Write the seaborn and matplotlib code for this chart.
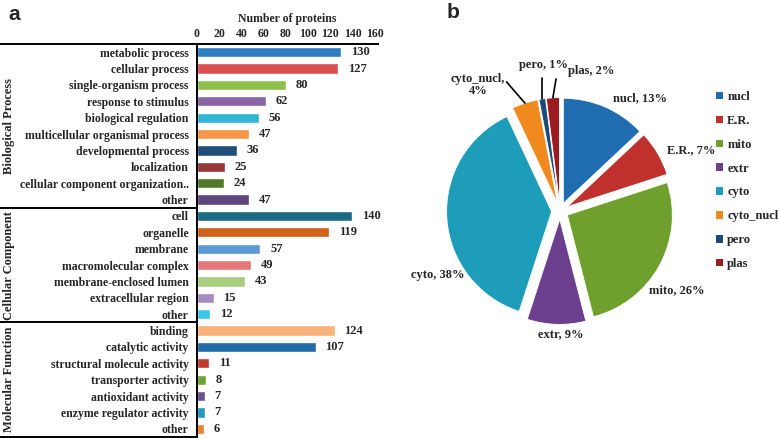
import numpy as np
import pandas as pd
import matplotlib
matplotlib.use("Agg")
import matplotlib.pyplot as plt
import matplotlib.transforms as mtransforms
from matplotlib.patches import Patch
import seaborn as sns

# ---------- data: panel a (GO terms) ----------
bp_terms = ["metabolic process", "cellular process", "single-organism process",
            "response to stimulus", "biological regulation",
            "multicellular organismal process", "developmental process",
            "localization", "cellular component organization..", "other"]
bp_counts = [130, 127, 80, 62, 56, 47, 36, 25, 24, 47]

cc_terms = ["cell", "organelle", "membrane", "macromolecular complex",
            "membrane-enclosed lumen", "extracellular region", "other"]
cc_counts = [140, 119, 57, 49, 43, 15, 12]

mf_terms = ["binding", "catalytic activity", "structural molecule activity",
            "transporter activity", "antioxidant activity",
            "enzyme regulator activity", "other"]
mf_counts = [124, 107, 11, 8, 7, 7, 6]

groups = ["Biological Process", "Cellular Component", "Molecular Function"]

bp_colors = ["#2E7EC1", "#D9504F", "#8DBF4A", "#8A64A8", "#2FB5D6",
             "#F79646", "#1F4E79", "#953735", "#4F7A28", "#5F4480"]
cc_colors = ["#1B6B84", "#D0601A", "#5B9BD5", "#E57878", "#A9CD7E",
             "#A68AC0", "#3BC8E8"]
mf_colors = ["#F9B27A", "#1F6CA8", "#C0392B", "#6FA337", "#6A4E8E",
             "#1F9AC0", "#F07E2A"]

# ---------- data: panel b (subcellular localisation) ----------
loc_names = ["nucl", "E.R.", "mito", "extr", "cyto", "cyto_nucl", "pero", "plas"]
loc_pct = [13, 7, 26, 9, 38, 4, 1, 2]
loc_colors = ["#1F6CB0", "#C0302C", "#6FA02E", "#6B3E8E", "#1E9DBA",
              "#F08A1E", "#1B4A78", "#9B1C1F"]

# ---------- style ----------
sns.set_style("white")
plt.rcParams["font.family"] = ["Liberation Serif", "DejaVu Serif"]
plt.rcParams["font.weight"] = "bold"

terms = bp_terms + cc_terms + mf_terms
counts = bp_counts + cc_counts + mf_counts
colors = bp_colors + cc_colors + mf_colors
sizes = [len(bp_terms), len(cc_terms), len(mf_terms)]
grp = sum([[g] * n for g, n in zip(groups, sizes)], [])
df = pd.DataFrame({"term": terms, "count": counts, "group": grp})
df["row"] = [f"{i:02d}" for i in range(len(df))]   # unique keys ("other" repeats)

fig = plt.figure(figsize=(7.78, 4.38), dpi=100)

# ========== panel a ==========
ax = fig.add_axes([197 / 778, 1 / 438, 181 / 778, 393 / 438])
sns.barplot(data=df, x="count", y="row", hue="row",
            palette=dict(zip(df["row"], colors)), legend=False,
            width=0.62, saturation=1, ax=ax)
ax.set_xlim(0, 163)
ax.set_ylim(len(df) - 0.5, -0.5)
ax.xaxis.tick_top()
ax.xaxis.set_label_position("top")
ax.set_xticks(np.arange(0, 161, 20))
ax.set_xlabel("Number of proteins", fontsize=8.5, fontweight="bold", labelpad=4)
ax.set_ylabel("")
ax.set_yticks(range(len(df)))
ax.set_yticklabels(df["term"], fontsize=8.5, fontweight="bold")
ax.tick_params(axis="both", length=0, pad=6)
ax.tick_params(axis="x", labelsize=8.5, pad=3)
for s in ["right", "bottom"]:
    ax.spines[s].set_visible(False)
for s in ["top", "left"]:
    ax.spines[s].set_color("black")
    ax.spines[s].set_linewidth(1.4)

for i, v in enumerate(df["count"]):
    ax.annotate(str(v), (v, i), xytext=(7, 0), textcoords="offset points",
                va="center", ha="left", fontsize=9, fontweight="bold")

# group separators on the left
blend = mtransforms.blended_transform_factory(ax.transAxes, ax.transData)
x_edge = -197 / 181
bounds = np.cumsum([0] + sizes) - 0.5
for b in bounds:
    ax.plot([x_edge, 0], [b, b], color="black", lw=1.4, transform=blend, clip_on=False)
for g, lo, hi in zip(groups, bounds[:-1], bounds[1:]):
    ax.text(x_edge + 0.05, (lo + hi) / 2, g, rotation=90, ha="center", va="center",
            fontsize=9, fontweight="bold", transform=blend)

fig.text(8 / 778, 1 - 14 / 438, "a", fontsize=15, fontweight="bold",
         family="Liberation Sans", va="center")

# ========== panel b ==========
pax = fig.add_axes([423.5 / 778, 90.5 / 438, 273 / 778, 273 / 438])
explode = [0.08] * len(loc_pct)
wedges, _ = pax.pie(loc_pct, colors=loc_colors, startangle=90, counterclock=False,
                    explode=explode, wedgeprops=dict(edgecolor="white", linewidth=0.6))
pax.set_xlim(-1.3, 1.3)
pax.set_ylim(-1.3, 1.3)
pax.set_aspect("equal")
pax.axis("off")

# label layout: (angle deg, distance) of text centre, leader line or not
label_layout = {
    "nucl": (54.7, 1.32, False),
    "E.R.": (24.8, 1.38, False),
    "mito": (-34.0, 1.34, False),
    "extr": (-89.5, 1.17, False),
    "cyto": (207.7, 1.31, False),
    "cyto_nucl": (123.0, 1.43, True),
    "pero": (96.6, 1.40, True),
    "plas": (77.5, 1.37, True),
}
for w, name, pct in zip(wedges, loc_names, loc_pct):
    ang, dist, leader = label_layout[name]
    tx, ty = dist * np.cos(np.radians(ang)), dist * np.sin(np.radians(ang))
    txt = f"{name},\n{pct}%" if name == "cyto_nucl" else f"{name}, {pct}%"
    if leader:
        mid = np.radians((w.theta1 + w.theta2) / 2)
        r = 1.0 + 0.08
        ex, ey = r * np.cos(mid), r * np.sin(mid)
        if name == "cyto_nucl":
            sx, sy = tx + 0.27, ty + 0.03
        elif name == "pero":
            sx, sy = ex, ty - 0.12
        else:
            sx, sy = ex + 0.03, ty - 0.08
        pax.plot([sx, ex], [sy, ey], color="black", lw=1.2)
    pax.text(tx, ty, txt, ha="center", va="center", fontsize=9,
             fontweight="bold", linespacing=1.0)

handles = [Patch(facecolor=c, edgecolor="none") for c in loc_colors]
fig.legend(handles, loc_names, loc="upper left", bbox_to_anchor=(716 / 778, 1 - 91 / 438),
           frameon=False, prop={"weight": "bold", "size": 9},
           handlelength=0.55, handleheight=0.55, handletextpad=0.35,
           labelspacing=0.95, borderaxespad=0, borderpad=0)

fig.text(447 / 778, 1 - 12 / 438, "b", fontsize=15, fontweight="bold",
         family="Liberation Sans", va="center")

fig.savefig("out.png", dpi=100)
